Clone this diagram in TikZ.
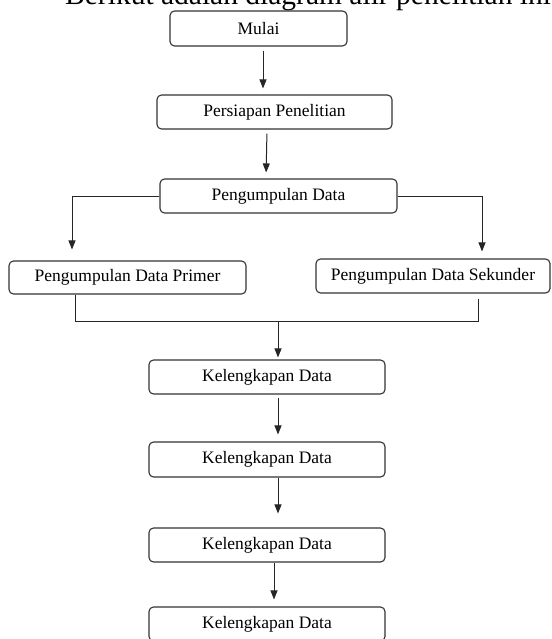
\documentclass[tikz,border=0pt]{standalone}
\usepackage{fontspec}
\setmainfont{Liberation Serif}
\usetikzlibrary{arrows.meta,calc}
\begin{document}
\begin{tikzpicture}[x=1pt,y=-1pt,
  box/.style={draw=black!80,line width=1.1pt,rounded corners=4.5pt,inner sep=0pt,
    font=\fontsize{17.5}{20}\selectfont,text=black},
  conn/.style={draw=black!85,line width=1pt},
  arr/.style={conn,-{Triangle[length=9pt,width=7pt]}}]
\useasboundingbox (0,0) rectangle (551,639);
\node[anchor=base west,inner sep=0pt,font=\fontsize{29.5}{32}\selectfont] (title) at (65,5) {Berikut adalah diagram alir penelitian ini};
\node[box,minimum width=177pt,minimum height=35pt] (mulai) at (258.5,28.5) {Mulai};
\node[box,minimum width=235pt,minimum height=34pt] (persiapan) at (274.5,112) {Persiapan Penelitian};
\node[box,minimum width=237pt,minimum height=34pt] (pd) at (278.5,196) {Pengumpulan Data};
\node[box,minimum width=237pt,minimum height=33pt] (primer) at (127.5,277.5) {Pengumpulan Data Primer};
\node[box,minimum width=234pt,minimum height=34pt] (sekunder) at (433,276) {Pengumpulan Data Sekunder};
\node[box,minimum width=236pt,minimum height=34pt] (k1) at (267,377) {Kelengkapan Data};
\node[box,minimum width=236pt,minimum height=35pt] (k2) at (267,459.5) {Kelengkapan Data};
\node[box,minimum width=236pt,minimum height=34pt] (k3) at (267,545) {Kelengkapan Data};
\node[box,minimum width=236pt,minimum height=34pt] (k4) at (267,624) {Kelengkapan Data};
\coordinate (join) at (278,321);
% connectors
\draw[arr,shorten <=4pt,shorten >=6pt] ($(mulai.south)+(4.5,0)$) -- ($(persiapan.north)+(-11.5,0)$);
\draw[arr,shorten <=4pt,shorten >=6pt] ($(persiapan.south)+(-7.5,0)$) -- ($(pd.north)+(-12.5,0)$);
\draw[arr,shorten >=11pt] (pd.west) -| ($(primer.north)+(-55.5,0)$);
\draw[arr,shorten >=7pt] (pd.east) -| ($(sekunder.north)+(49,0)$);
\draw[conn] ($(primer.south)+(-52.5,0)$) |- (join);
\draw[conn,shorten <=5pt] ($(sekunder.south)+(45,0)$) |- (join);
\draw[arr,shorten >=2pt] (join) -- ($(k1.north)+(11,0)$);
\draw[arr,shorten <=3pt,shorten >=7pt] ($(k1.south)+(11,0)$) -- ($(k2.north)+(11,0)$);
\draw[arr,shorten >=14pt] ($(k2.south)+(11,0)$) -- ($(k3.north)+(11,0)$);
\draw[arr,shorten >=7pt] ($(k3.south)+(7,0)$) -- ($(k4.north)+(7,0)$);
\end{tikzpicture}
\end{document}
